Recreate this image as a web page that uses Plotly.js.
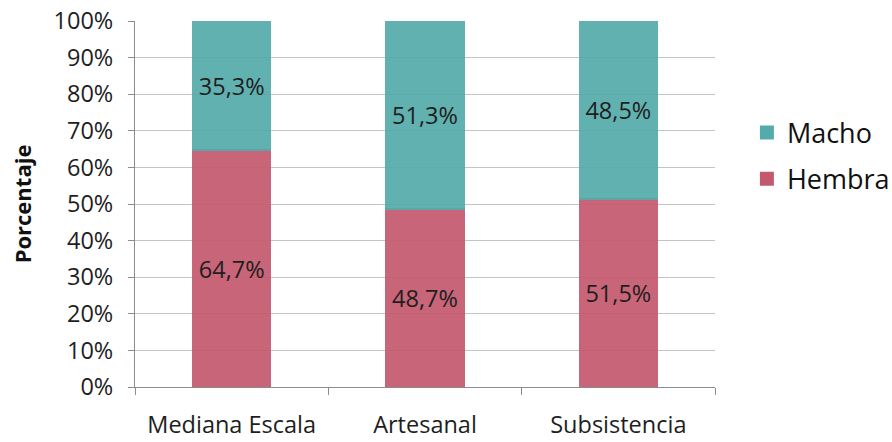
<!DOCTYPE html>
<html>
<head>
<meta charset="utf-8">
<script src="https://cdn.plot.ly/plotly-3.0.1.min.js"></script>
<style>
  html, body { margin: 0; padding: 0; background: #ffffff; }
  #chart { width: 892px; height: 442px; }
</style>
</head>
<body>
<div id="chart"></div>
<script>
// Categories of fishery and sex share (percent) per category
const categories = ['Mediana Escala', 'Artesanal', 'Subsistencia'];
const hembra = [64.7, 48.7, 51.5];
const macho = [35.3, 51.3, 48.5];

const FONT = 'Open Sans, sans-serif';
const labelFont = { family: FONT, size: 23.5, color: '#1e1e1e' };

const traces = [
  {
    type: 'bar',
    name: 'Hembra',
    legendgroup: 'h',
    legendrank: 2,
    x: categories,
    y: hembra,
    marker: { color: '#C4596D', opacity: 0.92, line: { color: '#C4596D', width: 2 } },
    texttemplate: '%{y:.1f}%',
    textposition: 'inside',
    insidetextanchor: 'middle',
    textfont: labelFont,
    hoverinfo: 'none'
  },
  {
    type: 'bar',
    name: 'Macho',
    legendgroup: 'm',
    legendrank: 1,
    x: categories,
    y: macho,
    marker: { color: '#55ABAB', opacity: 0.92, line: { color: '#55ABAB', width: 2 } },
    texttemplate: '%{y:.1f}%',
    textposition: 'inside',
    insidetextanchor: 'middle',
    textfont: labelFont,
    hoverinfo: 'none'
  }
];

const layout = {
  width: 892,
  height: 442,
  margin: { l: 135, r: 177, t: 21, b: 55, autoexpand: false },
  paper_bgcolor: '#ffffff',
  plot_bgcolor: '#ffffff',
  barmode: 'stack',
  bargap: 0.6,
  separators: ',.',
  showlegend: true,
  uniformtext: { mode: false },
  font: { family: FONT, color: '#1e1e1e' },
  legend: {
    x: 1.055, xanchor: 'left',
    y: 0.631, yanchor: 'middle',
    traceorder: 'grouped',
    tracegroupgap: 8,
    font: { family: FONT, size: 27, color: '#111111' },
    itemwidth: 30,
    bgcolor: 'rgba(0,0,0,0)'
  },
  xaxis: {
    type: 'category',
    tickson: 'boundaries',
    ticks: 'outside',
    ticklen: 7,
    tickcolor: '#8c8c8c',
    showline: true,
    linecolor: '#8c8c8c',
    linewidth: 1,
    showgrid: false,
    tickfont: { family: FONT, size: 23.5, color: '#1e1e1e' },
    ticklabelstandoff: 17,
    fixedrange: true
  },
  yaxis: {
    range: [0, 100],
    dtick: 10,
    ticksuffix: '%',
    ticks: 'outside',
    ticklen: 6,
    tickcolor: '#8c8c8c',
    showline: true,
    linecolor: '#8c8c8c',
    linewidth: 1,
    showgrid: true,
    gridcolor: '#c4c4c4',
    gridwidth: 1,
    zeroline: false,
    tickfont: { family: FONT, size: 23.5, color: '#1e1e1e' },
    ticklabelstandoff: 10,
    title: {
      text: 'Porcentaje',
      font: { family: FONT, size: 22, color: '#111111', weight: 'bold' },
      standoff: 15
    },
    fixedrange: true
  }
};

Plotly.newPlot('chart', traces, layout, { displayModeBar: false, staticPlot: true });
</script>
</body>
</html>
